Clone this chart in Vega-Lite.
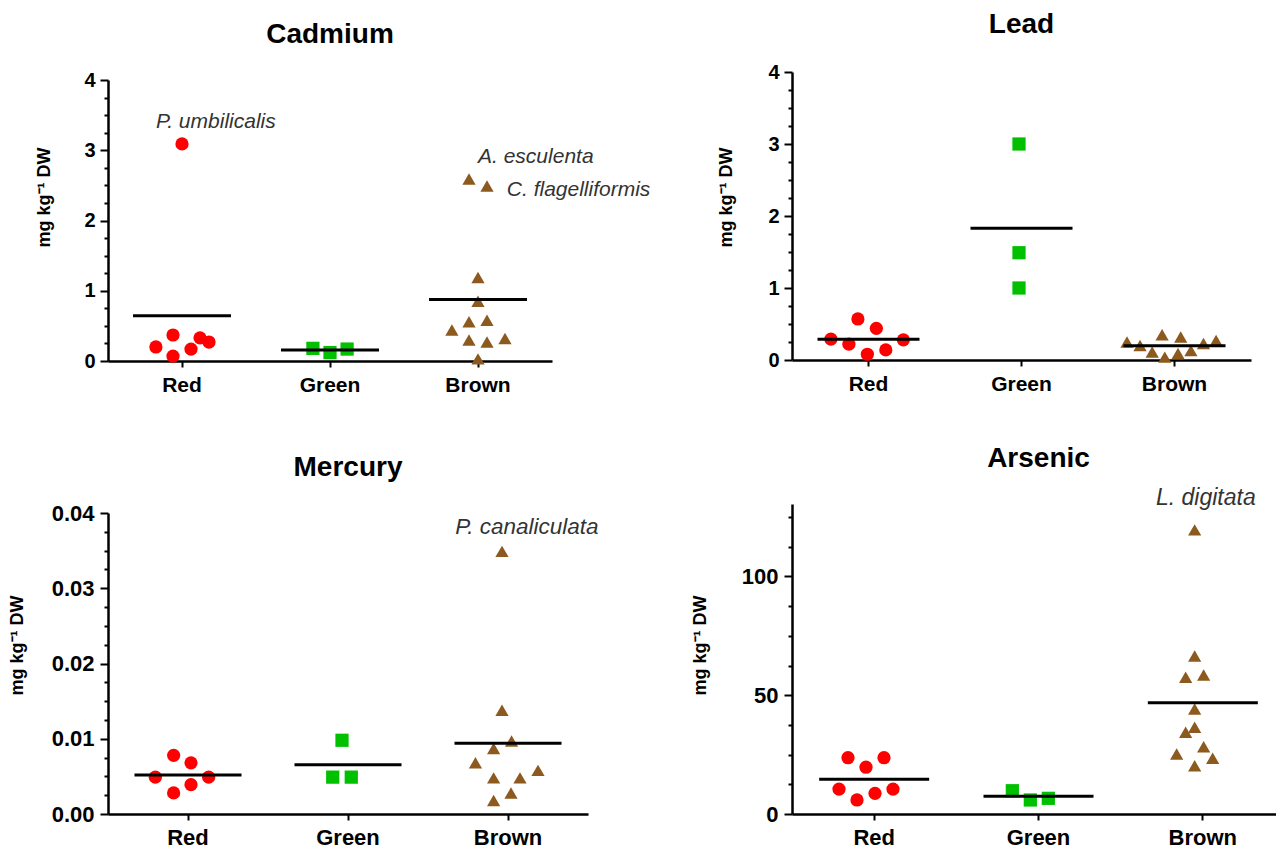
{
  "$schema": "https://vega.github.io/schema/vega-lite/v6.json",
  "autosize": {"type": "none"},
  "padding": {"left": 108, "top": 72, "right": 1168, "bottom": 779},
  "config": {
    "view": {"stroke": null},
    "font": "Liberation Sans",
    "axis": {"grid": false, "domainColor": "#000", "domainWidth": 2.5, "tickColor": "#000", "tickWidth": 2, "labelColor": "#000", "labelFont": "Liberation Sans", "labelFontWeight": "bold", "titleColor": "#000", "titleFont": "Liberation Sans", "titleFontWeight": "bold", "bandPosition": 0.5},
    "title": {"font": "Liberation Sans", "fontSize": 28, "fontWeight": "bold", "color": "#000", "anchor": "middle"},
    "point": {"filled": true, "opacity": 1, "size": 175},
    "tick": {"color": "#000", "thickness": 3, "opacity": 1},
    "text": {"font": "Liberation Sans", "fontStyle": "italic", "fontSize": 21, "color": "#333333", "align": "left", "baseline": "middle"}
  },
  "datasets": {
    "samples": [
      {"metal": "Cadmium", "group": "Red", "j": -2.9, "value": 0.20},
      {"metal": "Cadmium", "group": "Red", "j": -1, "value": 0.37},
      {"metal": "Cadmium", "group": "Red", "j": -1, "value": 0.07},
      {"metal": "Cadmium", "group": "Red", "j": 0, "value": 3.09},
      {"metal": "Cadmium", "group": "Red", "j": 1, "value": 0.17},
      {"metal": "Cadmium", "group": "Red", "j": 2, "value": 0.33},
      {"metal": "Cadmium", "group": "Red", "j": 3, "value": 0.27},
      {"metal": "Cadmium", "group": "Green", "j": -1.9, "value": 0.18},
      {"metal": "Cadmium", "group": "Green", "j": 0, "value": 0.12},
      {"metal": "Cadmium", "group": "Green", "j": 1.9, "value": 0.17},
      {"metal": "Cadmium", "group": "Brown", "j": -1, "value": 2.59},
      {"metal": "Cadmium", "group": "Brown", "j": 1, "value": 2.49},
      {"metal": "Cadmium", "group": "Brown", "j": 0, "value": 1.19},
      {"metal": "Cadmium", "group": "Brown", "j": 0, "value": 0.85},
      {"metal": "Cadmium", "group": "Brown", "j": -1, "value": 0.56},
      {"metal": "Cadmium", "group": "Brown", "j": 1, "value": 0.58},
      {"metal": "Cadmium", "group": "Brown", "j": -2.9, "value": 0.44},
      {"metal": "Cadmium", "group": "Brown", "j": -1, "value": 0.30},
      {"metal": "Cadmium", "group": "Brown", "j": 1, "value": 0.27},
      {"metal": "Cadmium", "group": "Brown", "j": 3, "value": 0.32},
      {"metal": "Cadmium", "group": "Brown", "j": 0, "value": 0.03},
      {"metal": "Lead", "group": "Red", "j": -3.9, "value": 0.29},
      {"metal": "Lead", "group": "Red", "j": -1.9, "value": 0.22},
      {"metal": "Lead", "group": "Red", "j": -0.9, "value": 0.57},
      {"metal": "Lead", "group": "Red", "j": 0.15, "value": 0.08},
      {"metal": "Lead", "group": "Red", "j": 1.15, "value": 0.44},
      {"metal": "Lead", "group": "Red", "j": 2.2, "value": 0.14},
      {"metal": "Lead", "group": "Red", "j": 4.15, "value": 0.28},
      {"metal": "Lead", "group": "Green", "j": 0, "value": 3.0},
      {"metal": "Lead", "group": "Green", "j": 0, "value": 1.49},
      {"metal": "Lead", "group": "Green", "j": 0, "value": 1.0},
      {"metal": "Lead", "group": "Brown", "j": -5, "value": 0.25},
      {"metal": "Lead", "group": "Brown", "j": -3.55, "value": 0.20},
      {"metal": "Lead", "group": "Brown", "j": -2.2, "value": 0.11},
      {"metal": "Lead", "group": "Brown", "j": -1.1, "value": 0.35},
      {"metal": "Lead", "group": "Brown", "j": -0.8, "value": 0.04},
      {"metal": "Lead", "group": "Brown", "j": 0.67, "value": 0.09},
      {"metal": "Lead", "group": "Brown", "j": 0.97, "value": 0.32},
      {"metal": "Lead", "group": "Brown", "j": 2.1, "value": 0.13},
      {"metal": "Lead", "group": "Brown", "j": 3.5, "value": 0.23},
      {"metal": "Lead", "group": "Brown", "j": 4.9, "value": 0.27},
      {"metal": "Mercury", "group": "Red", "j": -2.96, "value": 0.0049},
      {"metal": "Mercury", "group": "Red", "j": -0.93, "value": 0.0078},
      {"metal": "Mercury", "group": "Red", "j": -0.93, "value": 0.0028},
      {"metal": "Mercury", "group": "Red", "j": 1, "value": 0.0068},
      {"metal": "Mercury", "group": "Red", "j": 1, "value": 0.0039},
      {"metal": "Mercury", "group": "Red", "j": 2.96, "value": 0.0049},
      {"metal": "Mercury", "group": "Green", "j": -1.03, "value": 0.0049},
      {"metal": "Mercury", "group": "Green", "j": 0, "value": 0.0098},
      {"metal": "Mercury", "group": "Green", "j": 1.03, "value": 0.0049},
      {"metal": "Mercury", "group": "Brown", "j": 0, "value": 0.0349},
      {"metal": "Mercury", "group": "Brown", "j": 0, "value": 0.0138},
      {"metal": "Mercury", "group": "Brown", "j": 1.06, "value": 0.0097},
      {"metal": "Mercury", "group": "Brown", "j": -0.93, "value": 0.0087},
      {"metal": "Mercury", "group": "Brown", "j": -2.95, "value": 0.0068},
      {"metal": "Mercury", "group": "Brown", "j": -0.93, "value": 0.0048},
      {"metal": "Mercury", "group": "Brown", "j": 2, "value": 0.0048},
      {"metal": "Mercury", "group": "Brown", "j": 4, "value": 0.0058},
      {"metal": "Mercury", "group": "Brown", "j": 1, "value": 0.0028},
      {"metal": "Mercury", "group": "Brown", "j": -0.93, "value": 0.0018},
      {"metal": "Arsenic", "group": "Red", "j": -2, "value": 23.7},
      {"metal": "Arsenic", "group": "Red", "j": 0, "value": 19.7},
      {"metal": "Arsenic", "group": "Red", "j": 2, "value": 23.7},
      {"metal": "Arsenic", "group": "Red", "j": -3, "value": 10.5},
      {"metal": "Arsenic", "group": "Red", "j": -1, "value": 5.9},
      {"metal": "Arsenic", "group": "Red", "j": 1, "value": 8.7},
      {"metal": "Arsenic", "group": "Red", "j": 3, "value": 10.5},
      {"metal": "Arsenic", "group": "Green", "j": -2, "value": 9.8},
      {"metal": "Arsenic", "group": "Green", "j": 0, "value": 5.9},
      {"metal": "Arsenic", "group": "Green", "j": 2, "value": 6.6},
      {"metal": "Arsenic", "group": "Brown", "j": 0, "value": 119.6},
      {"metal": "Arsenic", "group": "Brown", "j": 0, "value": 66.5},
      {"metal": "Arsenic", "group": "Brown", "j": -1, "value": 57.6},
      {"metal": "Arsenic", "group": "Brown", "j": 1, "value": 58.5},
      {"metal": "Arsenic", "group": "Brown", "j": 0, "value": 44.2},
      {"metal": "Arsenic", "group": "Brown", "j": 0, "value": 36.5},
      {"metal": "Arsenic", "group": "Brown", "j": -1, "value": 34.4},
      {"metal": "Arsenic", "group": "Brown", "j": 1, "value": 28.3},
      {"metal": "Arsenic", "group": "Brown", "j": -2, "value": 25.3},
      {"metal": "Arsenic", "group": "Brown", "j": 2, "value": 23.5},
      {"metal": "Arsenic", "group": "Brown", "j": 0, "value": 20.3}
    ],
    "labels": [
      {"metal": "Cadmium", "group": "Red", "j": -2.9, "value": 3.40, "label": "P. umbilicalis"},
      {"metal": "Cadmium", "group": "Brown", "j": 0, "value": 2.90, "label": "A. esculenta"},
      {"metal": "Cadmium", "group": "Brown", "j": 3.2, "value": 2.44, "label": "C. flagelliformis"},
      {"metal": "Mercury", "group": "Brown", "j": -5.2, "value": 0.0381, "label": "P. canaliculata"},
      {"metal": "Arsenic", "group": "Brown", "j": -4.3, "value": 132.9, "label": "L. digitata"}
    ]
  },
  "concat": [
    {
      "width": 444, "height": 289,
      "title": {"text": "Cadmium", "offset": 21},
      "layer": [
        {
          "data": {"name": "samples"},
          "transform": [{"filter": "datum.metal === 'Cadmium'"}],
          "mark": {"type": "point"},
          "encoding": {
            "x": {"field": "group", "type": "nominal", "sort": ["Red", "Green", "Brown"], "scale": {"type": "band", "paddingInner": 0, "paddingOuter": 0}, "axis": {"title": null, "labelAngle": 0, "labelFontSize": 21, "tickSize": 6, "labelPadding": 7}},
            "xOffset": {"field": "j", "type": "quantitative", "scale": {"domain": [-1, 1], "range": [65, 83]}},
            "y": {"field": "value", "type": "quantitative", "scale": {"domain": [0, 4], "range": [289, 8], "nice": false}, "axis": {"orient": "left", "values": [0, 1, 2, 3, 4], "title": "mg kg⁻¹ DW", "labelFontSize": 20, "tickSize": 8, "labelPadding": 5, "minExtent": 30, "maxExtent": 30, "titlePadding": 25, "titleFontSize": 18, "titleY": 125}},
            "color": {"field": "group", "type": "nominal", "scale": {"domain": ["Red", "Green", "Brown"], "range": ["#ff0000", "#00c000", "#8c5a1e"]}, "legend": null},
            "shape": {"field": "group", "type": "nominal", "scale": {"domain": ["Red", "Green", "Brown"], "range": ["circle", "square", "triangle-up"]}, "legend": null}
          }
        },
        {
          "data": {"name": "samples"},
          "transform": [{"filter": "datum.metal === 'Cadmium'"}],
          "mark": {"type": "tick", "size": 98},
          "encoding": {
            "x": {"field": "group", "type": "nominal", "sort": ["Red", "Green", "Brown"]},
            "y": {"aggregate": "mean", "field": "value", "type": "quantitative", "axis": {"orient": "left", "values": [0.25, 0.5, 0.75, 1.25, 1.5, 1.75, 2.25, 2.5, 2.75, 3.25, 3.5, 3.75], "labels": false, "domain": false, "tickSize": 4, "title": null}}
          }
        },
        {
          "data": {"name": "labels"},
          "transform": [{"filter": "datum.metal === 'Cadmium'"}],
          "mark": {"type": "text", "fontSize": 21},
          "encoding": {
            "x": {"field": "group", "type": "nominal", "sort": ["Red", "Green", "Brown"]},
            "xOffset": {"field": "j", "type": "quantitative"},
            "y": {"field": "value", "type": "quantitative", "axis": null},
            "text": {"field": "label"}
          }
        }
      ],
      "resolve": {"axis": {"y": "independent"}, "scale": {"y": "shared"}}
    },
    {
      "width": 459, "height": 288,
      "title": {"text": "Lead", "offset": 23},
      "layer": [
        {
          "data": {"name": "samples"},
          "transform": [{"filter": "datum.metal === 'Lead'"}],
          "mark": {"type": "point"},
          "encoding": {
            "x": {"field": "group", "type": "nominal", "sort": ["Red", "Green", "Brown"], "scale": {"type": "band", "paddingInner": 0, "paddingOuter": 0}, "axis": {"title": null, "labelAngle": 0, "labelFontSize": 21, "tickSize": 6, "labelPadding": 7}},
            "xOffset": {"field": "j", "type": "quantitative", "scale": {"domain": [-1, 1], "range": [67.5, 85.5]}},
            "y": {"field": "value", "type": "quantitative", "scale": {"domain": [0, 4], "nice": false}, "axis": {"orient": "left", "values": [0, 1, 2, 3, 4], "title": "mg kg⁻¹ DW", "labelFontSize": 20, "tickSize": 8, "labelPadding": 5, "minExtent": 30, "maxExtent": 30, "titlePadding": 27, "titleFontSize": 18, "titleY": 125}},
            "color": {"field": "group", "type": "nominal", "scale": {"domain": ["Red", "Green", "Brown"], "range": ["#ff0000", "#00c000", "#8c5a1e"]}, "legend": null},
            "shape": {"field": "group", "type": "nominal", "scale": {"domain": ["Red", "Green", "Brown"], "range": ["circle", "square", "triangle-up"]}, "legend": null}
          }
        },
        {
          "data": {"name": "samples"},
          "transform": [{"filter": "datum.metal === 'Lead'"}],
          "mark": {"type": "tick", "size": 102},
          "encoding": {
            "x": {"field": "group", "type": "nominal", "sort": ["Red", "Green", "Brown"]},
            "y": {"aggregate": "mean", "field": "value", "type": "quantitative", "axis": {"orient": "left", "values": [0.25, 0.5, 0.75, 1.25, 1.5, 1.75, 2.25, 2.5, 2.75, 3.25, 3.5, 3.75], "labels": false, "domain": false, "tickSize": 4, "title": null}}
          }
        }
      ],
      "resolve": {"axis": {"y": "independent"}, "scale": {"y": "shared"}}
    },
    {
      "width": 480, "height": 310,
      "title": {"text": "Mercury", "offset": 20},
      "layer": [
        {
          "data": {"name": "samples"},
          "transform": [{"filter": "datum.metal === 'Mercury'"}],
          "mark": {"type": "point"},
          "encoding": {
            "x": {"field": "group", "type": "nominal", "sort": ["Red", "Green", "Brown"], "scale": {"type": "band", "paddingInner": 0, "paddingOuter": 0}, "axis": {"title": null, "labelAngle": 0, "labelFontSize": 22, "tickSize": 6, "labelPadding": 7}},
            "xOffset": {"field": "j", "type": "quantitative", "scale": {"domain": [-1, 1], "range": [70.3, 89.7]}},
            "y": {"field": "value", "type": "quantitative", "scale": {"domain": [0, 0.04], "range": [310, 9], "nice": false}, "axis": {"orient": "left", "values": [0, 0.01, 0.02, 0.03, 0.04], "format": ".2f", "title": "mg kg⁻¹ DW", "labelFontSize": 22, "tickSize": 8, "labelPadding": 6, "minExtent": 30, "maxExtent": 30, "titlePadding": 52, "titleFontSize": 18, "titleY": 141}},
            "color": {"field": "group", "type": "nominal", "scale": {"domain": ["Red", "Green", "Brown"], "range": ["#ff0000", "#00c000", "#8c5a1e"]}, "legend": null},
            "shape": {"field": "group", "type": "nominal", "scale": {"domain": ["Red", "Green", "Brown"], "range": ["circle", "square", "triangle-up"]}, "legend": null}
          }
        },
        {
          "data": {"name": "samples"},
          "transform": [{"filter": "datum.metal === 'Mercury'"}],
          "mark": {"type": "tick", "size": 107},
          "encoding": {
            "x": {"field": "group", "type": "nominal", "sort": ["Red", "Green", "Brown"]},
            "y": {"aggregate": "mean", "field": "value", "type": "quantitative", "axis": {"orient": "left", "values": [0.0025, 0.005, 0.0075, 0.0125, 0.015, 0.0175, 0.0225, 0.025, 0.0275, 0.0325, 0.035, 0.0375], "labels": false, "domain": false, "tickSize": 4, "title": null}}
          }
        },
        {
          "data": {"name": "labels"},
          "transform": [{"filter": "datum.metal === 'Mercury'"}],
          "mark": {"type": "text", "fontSize": 22.5},
          "encoding": {
            "x": {"field": "group", "type": "nominal", "sort": ["Red", "Green", "Brown"]},
            "xOffset": {"field": "j", "type": "quantitative"},
            "y": {"field": "value", "type": "quantitative", "axis": null},
            "text": {"field": "label"}
          }
        }
      ],
      "resolve": {"axis": {"y": "independent"}, "scale": {"y": "shared"}}
    },
    {
      "width": 493, "height": 310,
      "title": {"text": "Arsenic", "offset": 14},
      "layer": [
        {
          "data": {"name": "samples"},
          "transform": [{"filter": "datum.metal === 'Arsenic'"}],
          "mark": {"type": "point"},
          "encoding": {
            "x": {"field": "group", "type": "nominal", "sort": ["Red", "Green", "Brown"], "scale": {"type": "band", "paddingInner": 0, "paddingOuter": 0}, "axis": {"title": null, "labelAngle": 0, "labelFontSize": 22, "tickSize": 6, "labelPadding": 7}},
            "xOffset": {"field": "j", "type": "quantitative", "scale": {"domain": [-1, 1], "range": [72.2, 92.2]}},
            "y": {"field": "value", "type": "quantitative", "scale": {"domain": [0, 130.5], "nice": false}, "axis": {"orient": "left", "values": [0, 50, 100], "title": "mg kg⁻¹ DW", "labelFontSize": 22, "tickSize": 8, "labelPadding": 6, "minExtent": 30, "maxExtent": 30, "titlePadding": 53, "titleFontSize": 18, "titleY": 141}},
            "color": {"field": "group", "type": "nominal", "scale": {"domain": ["Red", "Green", "Brown"], "range": ["#ff0000", "#00c000", "#8c5a1e"]}, "legend": null},
            "shape": {"field": "group", "type": "nominal", "scale": {"domain": ["Red", "Green", "Brown"], "range": ["circle", "square", "triangle-up"]}, "legend": null}
          }
        },
        {
          "data": {"name": "samples"},
          "transform": [{"filter": "datum.metal === 'Arsenic'"}],
          "mark": {"type": "tick", "size": 110},
          "encoding": {
            "x": {"field": "group", "type": "nominal", "sort": ["Red", "Green", "Brown"]},
            "y": {"aggregate": "mean", "field": "value", "type": "quantitative", "axis": {"orient": "left", "values": [12.5, 25, 37.5, 62.5, 75, 87.5, 112.5, 125], "labels": false, "domain": false, "tickSize": 4, "title": null}}
          }
        },
        {
          "data": {"name": "labels"},
          "transform": [{"filter": "datum.metal === 'Arsenic'"}],
          "mark": {"type": "text", "fontSize": 23},
          "encoding": {
            "x": {"field": "group", "type": "nominal", "sort": ["Red", "Green", "Brown"]},
            "xOffset": {"field": "j", "type": "quantitative"},
            "y": {"field": "value", "type": "quantitative", "axis": null},
            "text": {"field": "label"}
          }
        }
      ],
      "resolve": {"axis": {"y": "independent"}, "scale": {"y": "shared"}}
    }
  ],
  "columns": 2,
  "spacing": {"row": 143, "column": 204},
  "bounds": "flush"
}
